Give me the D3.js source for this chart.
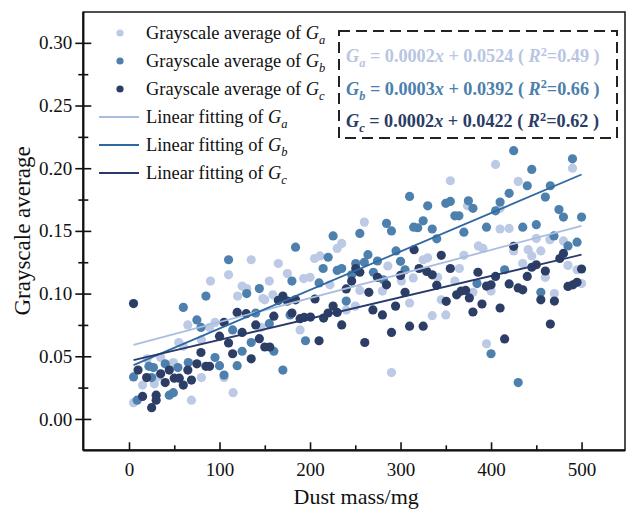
<!DOCTYPE html>
<html>
<head>
<meta charset="utf-8">
<script src="https://cdn.jsdelivr.net/npm/d3@7"></script>
<style>
  html, body { margin: 0; padding: 0; background: #fff; }
  svg { display: block; }
  text { font-family: "Liberation Serif", "Times New Roman", serif; fill: #111; }
</style>
</head>
<body>
<div id="chart"></div>
<script>
  // Grayscale average of Ga / Gb / Gc: [dust mass (mg), grayscale]
  const seriesGa = [
    [5, 0.013], [15, 0.027], [20, 0.048], [28, 0.028], [33, 0.034], [35, 0.049], [49, 0.045],
    [55, 0.061], [60, 0.058], [65, 0.075], [69, 0.015], [80, 0.033], [80, 0.063], [89, 0.073],
    [90, 0.110], [95, 0.077], [105, 0.033], [110, 0.115], [115, 0.021], [120, 0.098], [125, 0.106],
    [130, 0.104], [135, 0.127], [146, 0.073], [148, 0.096], [150, 0.095], [155, 0.110], [159, 0.099],
    [165, 0.124], [175, 0.116], [189, 0.071], [193, 0.112], [200, 0.113], [205, 0.128], [211, 0.130],
    [222, 0.107], [230, 0.136], [235, 0.140], [240, 0.087], [250, 0.090], [255, 0.1025], [260, 0.157],
    [280, 0.102], [286, 0.122], [290, 0.037], [301, 0.110], [310, 0.0925], [314, 0.1125], [325, 0.127],
    [330, 0.1285], [335, 0.0824], [341, 0.113], [345, 0.095], [350, 0.083], [355, 0.190], [360, 0.110],
    [365, 0.120], [370, 0.1305], [374, 0.170], [380, 0.101], [386, 0.138], [391, 0.136], [395, 0.060],
    [400, 0.102], [405, 0.203], [410, 0.168], [410, 0.1515], [420, 0.152], [425, 0.134], [430, 0.1895],
    [435, 0.124], [441, 0.135], [445, 0.130], [450, 0.144], [455, 0.134], [460, 0.113], [465, 0.143],
    [470, 0.100], [480, 0.142], [485, 0.1225], [490, 0.200], [495, 0.119], [500, 0.108]
  ];
  const seriesGb = [
    [5, 0.0335], [9, 0.015], [22, 0.042], [25, 0.033], [27, 0.041], [40, 0.044], [44.5, 0.019],
    [49, 0.021], [54, 0.041], [60, 0.089], [65.5, 0.045], [75, 0.079], [79.5, 0.073], [85, 0.098],
    [95, 0.049], [100, 0.0425], [105, 0.035], [110, 0.127], [114.5, 0.071], [119.5, 0.0425], [125, 0.054],
    [130, 0.100], [135, 0.061], [140, 0.0845], [144, 0.104], [155, 0.076], [160, 0.054], [170, 0.039],
    [178, 0.083], [180, 0.110], [184, 0.137], [195, 0.0624], [210, 0.1085], [214.5, 0.120], [220, 0.129],
    [225.5, 0.146], [230, 0.1185], [235, 0.120], [240, 0.094], [246, 0.115], [250.5, 0.124], [255, 0.148],
    [260, 0.125], [264, 0.131], [270, 0.117], [274.5, 0.126], [281, 0.111], [284.5, 0.156], [290, 0.150],
    [295, 0.134], [300, 0.1257], [305, 0.119], [310, 0.1775], [314.5, 0.153], [319, 0.1525], [325, 0.158],
    [330, 0.170], [335, 0.1515], [340, 0.1437], [350, 0.172], [355, 0.1735], [360, 0.162], [364.5, 0.162],
    [370, 0.149], [375, 0.174], [380, 0.168], [384.5, 0.108], [395, 0.153], [400, 0.052], [405, 0.166],
    [410, 0.173], [415, 0.119], [420, 0.180], [425, 0.214], [430, 0.029], [435, 0.153], [440, 0.186],
    [445, 0.199], [450, 0.155], [455, 0.101], [460, 0.177], [465.5, 0.186], [469.5, 0.146], [475, 0.167],
    [480, 0.161], [485, 0.138], [490, 0.2075], [495, 0.141], [500, 0.161]
  ];
  const seriesGc = [
    [5, 0.092], [10, 0.039], [15, 0.018], [19.5, 0.033], [25, 0.009], [30, 0.019], [30, 0.015],
    [35, 0.036], [40, 0.029], [44.5, 0.039], [50, 0.0325], [55.5, 0.0325], [60, 0.027], [65, 0.039],
    [69, 0.031], [75, 0.044], [79.5, 0.053], [85, 0.042], [89, 0.042], [100, 0.066], [105, 0.077],
    [110, 0.0606], [114.5, 0.052], [119.5, 0.085], [125, 0.069], [129.5, 0.084], [135, 0.048], [140, 0.075],
    [144, 0.064], [150, 0.0574], [155.5, 0.0574], [160, 0.082], [165, 0.0946], [170, 0.098], [175, 0.094],
    [180, 0.0845], [184, 0.095], [189, 0.080], [193.5, 0.081], [200.5, 0.0813], [205.5, 0.0957], [210, 0.0624],
    [215, 0.0805], [220, 0.0845], [225.5, 0.090], [230, 0.085], [235, 0.075], [240, 0.1037], [246, 0.110],
    [250.5, 0.120], [255, 0.117], [260.5, 0.061], [265, 0.101], [269.5, 0.087], [274.5, 0.113], [280, 0.083],
    [284.5, 0.107], [290, 0.069], [294.5, 0.090], [300, 0.1145], [305, 0.101], [310, 0.074], [315, 0.135],
    [320.5, 0.120], [325, 0.074], [329, 0.1177], [335, 0.115], [340, 0.1066], [345, 0.1305], [350.5, 0.0938],
    [355, 0.120], [362, 0.099], [367, 0.102], [372, 0.1025], [376, 0.0965], [380, 0.0853], [385.5, 0.117],
    [390, 0.0917], [395, 0.106], [400, 0.107], [405, 0.1137], [410, 0.0885], [415, 0.0638], [420, 0.1077],
    [425, 0.1377], [430, 0.1045], [435, 0.103], [440, 0.1137], [445, 0.121], [450, 0.123], [455, 0.095],
    [460, 0.118], [465.5, 0.0757], [470, 0.094], [476, 0.128], [480, 0.132], [485, 0.1057], [490.5, 0.107],
    [495, 0.109], [500, 0.1196]
  ];

  // fitted lines as drawn: [x, y] at both ends
  const fitGa = [[5, 0.059], [500, 0.154]];
  const fitGb = [[5, 0.043], [500, 0.195]];
  const fitGc = [[5, 0.047], [500, 0.131]];

  const equations = [
    { sub: 'a', slope: '0.0002', icpt: '0.0524', r2: '0.49' },
    { sub: 'b', slope: '0.0003', icpt: '0.0392', r2: '0.66' },
    { sub: 'c', slope: '0.0002', icpt: '0.0422', r2: '0.62' }
  ];

  const xTicks = [0, 100, 200, 300, 400, 500];
  const xMinor = [50, 150, 250, 350, 450];
  const yTicks = [0, 0.05, 0.10, 0.15, 0.20, 0.25, 0.30];
  const yMinor = [0.025, 0.075, 0.125, 0.175, 0.225, 0.275];

  const dotColors = ['#bccae6', '#4e80ae', '#2c3d66'];
  const lineColors = ['#a9bde0', '#2f69a2', '#283a6b'];

  const W = 627, H = 509;
  const plotL = 83.3, plotR = 625, plotT = 12, plotB = 450.3;

  const svg = d3.select('#chart').append('svg')
    .attr('width', W)
    .attr('height', H);

  const x = d3.scaleLinear().domain([-50.5, 548]).range([plotL, plotR]);
  const y = d3.scaleLinear().domain([-0.025, 0.3246]).range([plotB, plotT]);

  // points
  const series = [seriesGa, seriesGb, seriesGc];
  series.forEach(function (data, i) {
    svg.append('g').selectAll('circle')
      .data(data)
      .enter()
      .append('circle')
      .attr('cx', d => x(d[0]))
      .attr('cy', d => y(d[1]))
      .attr('r', 4.6)
      .attr('fill', dotColors[i]);
  });

  // fit lines
  const line = d3.line().x(d => x(d[0])).y(d => y(d[1]));
  [fitGa, fitGb, fitGc].forEach(function (f, i) {
    svg.append('path')
      .attr('d', line(f))
      .attr('fill', 'none')
      .attr('stroke', lineColors[i])
      .attr('stroke-width', 1.8);
  });

  // axes
  const styleAxis = function (g, size) {
    g.select('.domain').remove();
    g.selectAll('.tick line').attr('stroke', '#111').attr('stroke-width', 1.6);
    g.selectAll('text').attr('font-size', size).attr('font-family', '"Liberation Serif", serif').attr('fill', '#111');
  };

  svg.append('g')
    .attr('transform', `translate(0,${plotB})`)
    .call(d3.axisBottom(x).tickValues(xTicks).tickSize(-8).tickPadding(12))
    .call(g => styleAxis(g, '19px'));
  svg.append('g')
    .attr('transform', `translate(0,${plotB})`)
    .call(d3.axisBottom(x).tickValues(xMinor).tickSize(-5).tickFormat(''))
    .call(g => styleAxis(g, '19px'));

  svg.append('g')
    .attr('transform', `translate(${plotL},0)`)
    .call(d3.axisLeft(y).tickValues(yTicks).tickSize(8).tickPadding(3).tickFormat(d3.format('.2f')))
    .call(g => styleAxis(g, '19px'));
  svg.append('g')
    .attr('transform', `translate(${plotL},0)`)
    .call(d3.axisLeft(y).tickValues(yTicks).tickSize(-8).tickFormat(''))
    .call(g => styleAxis(g, '19px'));
  svg.append('g')
    .attr('transform', `translate(${plotL},0)`)
    .call(d3.axisLeft(y).tickValues(yMinor).tickSize(5).tickFormat(''))
    .call(g => styleAxis(g, '19px'));
  svg.append('g')
    .attr('transform', `translate(${plotL},0)`)
    .call(d3.axisLeft(y).tickValues(yMinor).tickSize(-5).tickFormat(''))
    .call(g => styleAxis(g, '19px'));

  // frame
  svg.append('rect')
    .attr('x', plotL).attr('y', plotT)
    .attr('width', plotR - plotL).attr('height', plotB - plotT)
    .attr('fill', 'none').attr('stroke', '#222').attr('stroke-width', 1.6);
  svg.append('line')
    .attr('x1', plotL).attr('x2', plotL).attr('y1', plotT).attr('y2', plotB)
    .attr('stroke', '#111').attr('stroke-width', 2.2);
  svg.append('line')
    .attr('x1', plotL).attr('x2', plotR).attr('y1', plotB).attr('y2', plotB)
    .attr('stroke', '#111').attr('stroke-width', 2.2);

  // axis titles
  svg.append('text')
    .attr('x', (plotL + plotR) / 2 + 2).attr('y', 504)
    .attr('text-anchor', 'middle')
    .attr('font-size', '22px')
    .text('Dust mass/mg');
  svg.append('text')
    .attr('transform', 'translate(30,231) rotate(-90)')
    .attr('text-anchor', 'middle')
    .attr('font-size', '23px')
    .text('Grayscale average');

  // legend
  const subText = function (t, main, sub, size) {
    t.append('tspan').text(main);
    t.append('tspan').attr('font-style', 'italic').text('G');
    t.append('tspan').attr('font-style', 'italic').attr('font-size', size * 0.68).attr('dy', size * 0.28).text(sub);
  };
  const legend = svg.append('g');
  ['a', 'b', 'c'].forEach(function (s, i) {
    const cy = 33 + i * 28;
    legend.append('circle').attr('cx', 120).attr('cy', cy).attr('r', 3.6).attr('fill', dotColors[i]);
    const t = legend.append('text').attr('x', 146).attr('y', cy + 6).attr('font-size', '18.4px');
    subText(t, 'Grayscale average of ', s, 18.4);
  });
  ['a', 'b', 'c'].forEach(function (s, i) {
    const ly = 117 + i * 28;
    legend.append('line')
      .attr('x1', 99).attr('x2', 139).attr('y1', ly).attr('y2', ly)
      .attr('stroke', lineColors[i]).attr('stroke-width', 1.8);
    const t = legend.append('text').attr('x', 146).attr('y', ly + 6).attr('font-size', '18.4px');
    subText(t, 'Linear fitting of ', s, 18.4);
  });

  // equation box
  svg.append('rect')
    .attr('x', 339).attr('y', 31).attr('width', 278).attr('height', 107)
    .attr('fill', '#fff').attr('stroke', '#222').attr('stroke-width', 2)
    .attr('stroke-dasharray', '11,6');

  const eqColors = ['#b8c6e3', '#4c7fae', '#2b3c66'];
  equations.forEach(function (e, i) {
    const fs = 18.2;
    const t = svg.append('text')
      .attr('x', 346).attr('y', 62 + i * 32.5)
      .attr('font-size', fs + 'px')
      .attr('font-weight', 'bold')
      .style('fill', eqColors[i]);
    t.append('tspan').attr('font-style', 'italic').text('G');
    t.append('tspan').attr('font-style', 'italic').attr('font-size', fs * 0.68).attr('dy', fs * 0.28).text(e.sub);
    t.append('tspan').attr('dy', -fs * 0.28).text(' = ' + e.slope);
    t.append('tspan').attr('font-style', 'italic').text('x');
    t.append('tspan').text(' + ' + e.icpt + ' ( ');
    t.append('tspan').attr('font-style', 'italic').text('R');
    t.append('tspan').attr('font-size', fs * 0.68).attr('dy', -fs * 0.35).text('2');
    t.append('tspan').attr('dy', fs * 0.35).text('=' + e.r2 + ' )');
  });
</script>
</body>
</html>
